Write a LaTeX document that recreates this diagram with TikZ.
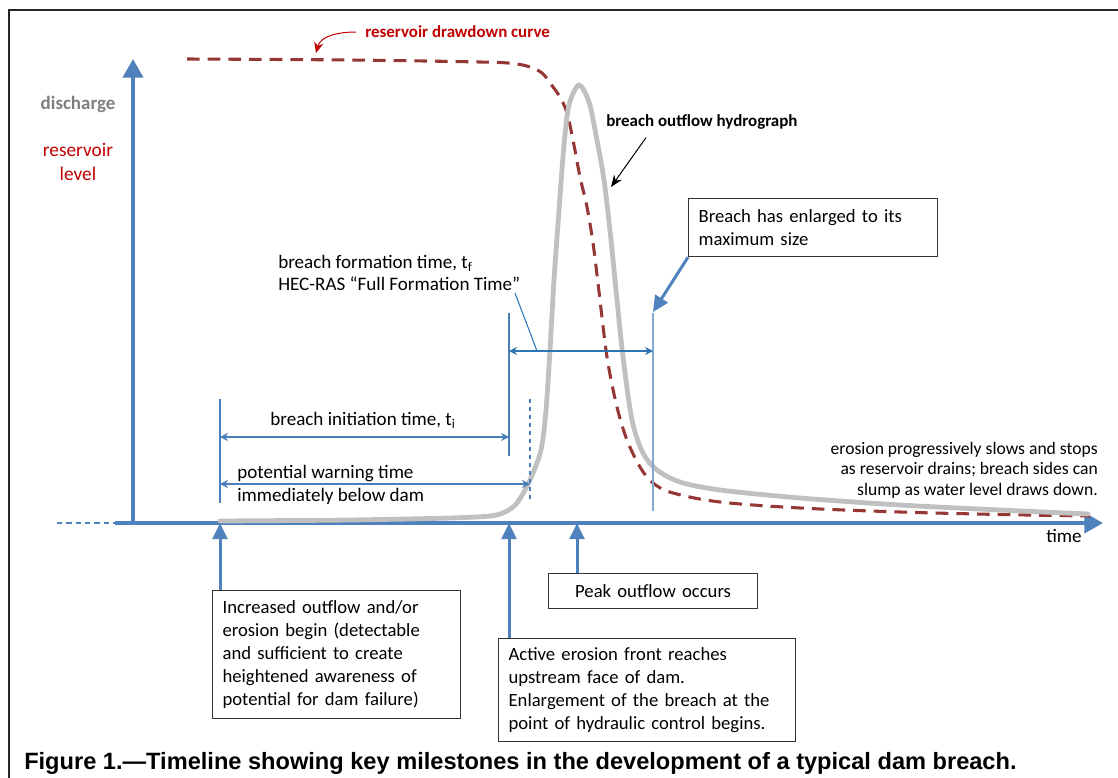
\documentclass[tikz,border=0pt]{standalone}
\usepackage{fontspec}
\setmainfont{Carlito}
\newfontfamily\capfont{Liberation Sans}
\usetikzlibrary{arrows.meta}
\definecolor{axisblue}{HTML}{4F81BD}
\definecolor{thinblue}{HTML}{4A7EBB}
\definecolor{formblue}{HTML}{2E75B6}
\definecolor{dashred}{HTML}{953735}
\definecolor{labelred}{HTML}{C00000}
\definecolor{curvegray}{HTML}{C0C0C0}
\definecolor{labelgray}{HTML}{7F7F7F}

\begin{document}
\begin{tikzpicture}[x=0.75pt,y=-0.75pt,
    txt/.style={inner sep=0pt,font=\fontsize{14.3}{17}\selectfont},
    box/.style={draw=black!80,line width=0.9pt,anchor=north west,inner xsep=7.5pt,
      inner ysep=0pt,align=left,font=\fontsize{14}{17.2}\selectfont},
    axis/.style={axisblue,line width=3pt,-{Triangle[width=15pt,length=14pt]}},
    uparrow/.style={axisblue,line width=2.25pt,-{Triangle[width=11pt,length=12pt]}},
    tick/.style={thinblue,line width=0.8pt},
    span/.style={thinblue,line width=0.8pt,{Stealth[length=6pt,width=6pt]}-{Stealth[length=6pt,width=6pt]}},
    pointer/.style={line width=0.75pt,-{Stealth[length=9pt,width=7pt]}}]
  \useasboundingbox (0,0) rectangle (1118,778);
  % frame
  \draw[line width=1.5pt,black!85] (9,778) -- (9,10) -- (1118,10);

  % timeline marks on the axis
  \coordinate (mStart) at (220,523);
  \coordinate (mFront) at (509,523);
  \coordinate (mPeak) at (577,523);
  \coordinate (mFull) at (653,312);
  \coordinate (hydroTip) at (611,187);
  \coordinate (drawTip) at (316,53);

  % axes
  \draw[axisblue,line width=1pt,dash pattern=on 4pt off 3pt] (57,523) -- (115,523);
  \draw[axis] (115,523) -- (1103,523);
  \draw[axis] (133,523) -- (133,59);
  \node[font=\bfseries\fontsize{14.2}{17}\selectfont,text=labelgray] (discharge) at (78,104) {discharge};
  \node[txt,align=center,text=labelred,font=\fontsize{14.5}{17.5}\selectfont] (level) at (78,162) {reservoir\\level};
  \node[txt] (time) at (1064,536) {time};

  % reservoir drawdown curve
  \draw[dashred,line width=2.3pt,dash pattern=on 9.5pt off 6pt] plot[smooth,tension=0.55] coordinates {
    (187,59) (350,60) (480,62) (513,63.5) (530,67) (542,73) (550,83) (560,97) (567,113)
    (573,140) (580,177) (587,207) (593,243) (598,283) (607,357) (617,407) (627,440)
    (640,467) (653,483) (673,493) (720,502) (800,508) (900,512) (1000,514.5) (1090,516)};
  % breach outflow hydrograph
  \draw[curvegray,line width=3.6pt,line cap=round] plot[smooth,tension=0.5] coordinates {
    (220,521) (350,520) (450,518) (490,516) (505,512) (517,503) (530,480) (541,450)
    (546,410) (550,350) (554,280) (559,210) (564,145) (569,105) (579,85)
    (589,102) (596,135) (604,180) (611,240) (617,300) (623,357) (632,420)
    (643,453) (657,470) (680,482) (720,490) (800,498) (900,505) (1000,510) (1088,514)};

  \node[txt,anchor=west,text=labelred,font=\bfseries\fontsize{12.7}{15}\selectfont] (drawdown) at (365,32) {reservoir drawdown curve};
  \draw[labelred,line width=0.75pt,-{Stealth[length=8pt,width=7pt]}] (drawdown.west) ++(-9,0) to[out=180,in=75] (drawTip);
  \node[txt,anchor=west,font=\bfseries\fontsize{12.7}{15}\selectfont] (hydro) at (606,122) {breach outflow hydrograph};
  \draw[pointer] ([xshift=30pt,yshift=-6pt]hydro.south west) -- (hydroTip);

  % breach initiation / warning / formation
  \draw[tick] (220,399) -- (220,503);
  \draw[tick] (509,313) -- (509,456);
  \draw[tick,dashed] (530,399) -- (530,499);
  \draw[tick,color=axisblue!70] (653,313) -- (653,511);
  \draw[span] (220,437) -- (509,437);
  \draw[span] (220,484) -- (530,484);
  \draw[span,formblue] (509,351) -- (653,351);
  \node[txt] (initiation) at (363,420) {breach initiation time, t\textsubscript{i}};
  \node[txt,anchor=west,align=left] (warning) at (237,485) {potential warning time\\immediately below dam};
  \node[txt,anchor=west,align=left] (formation) at (278,273) {breach formation time, t\textsubscript{f}\\HEC-RAS “Full Formation Time”};
  \draw[formblue,line width=0.8pt] (515,293) -- (537,351);

  \node[txt,anchor=east,align=right,font=\fontsize{13.2}{15.4}\selectfont] (erosion) at (1098,470)
    {erosion progressively slows and stops\\as reservoir drains; breach sides can\\slump as water level draws down.};

  % milestone boxes
  \node[box,text width=171.75pt,minimum height=43.5pt] (maxsize) at (688,198) {Breach has enlarged to its\\maximum size};
  \draw[uparrow] (maxsize.south west) -- (mFull);
  \node[box,text width=171pt,minimum height=96pt] (increased) at (212,590)
    {Increased outflow and/or\\erosion begin (detectable\\and sufficient to create\\heightened awareness of\\potential for dam failure)};
  \node[box,text width=207.75pt,minimum height=77.25pt] (active) at (498,638)
    {Active erosion front reaches\\upstream face of dam.\\Enlargement of the breach at the\\point of hydraulic control begins.};
  \node[box,align=center,text width=141.75pt,minimum height=26.25pt] (peak) at (548,573) {Peak outflow occurs};
  \draw[uparrow] (increased.north -| mStart) -- (mStart);
  \draw[uparrow] (active.north -| mFront) -- (mFront);
  \draw[uparrow] (peak.north -| mPeak) -- (mPeak);

  \node[inner sep=0pt,anchor=west,font=\capfont\bfseries\fontsize{17.7}{20}\selectfont] (caption) at (24,763)
    {Figure 1.—Timeline showing key milestones in the development of a typical dam breach.};
\end{tikzpicture}
\end{document}
